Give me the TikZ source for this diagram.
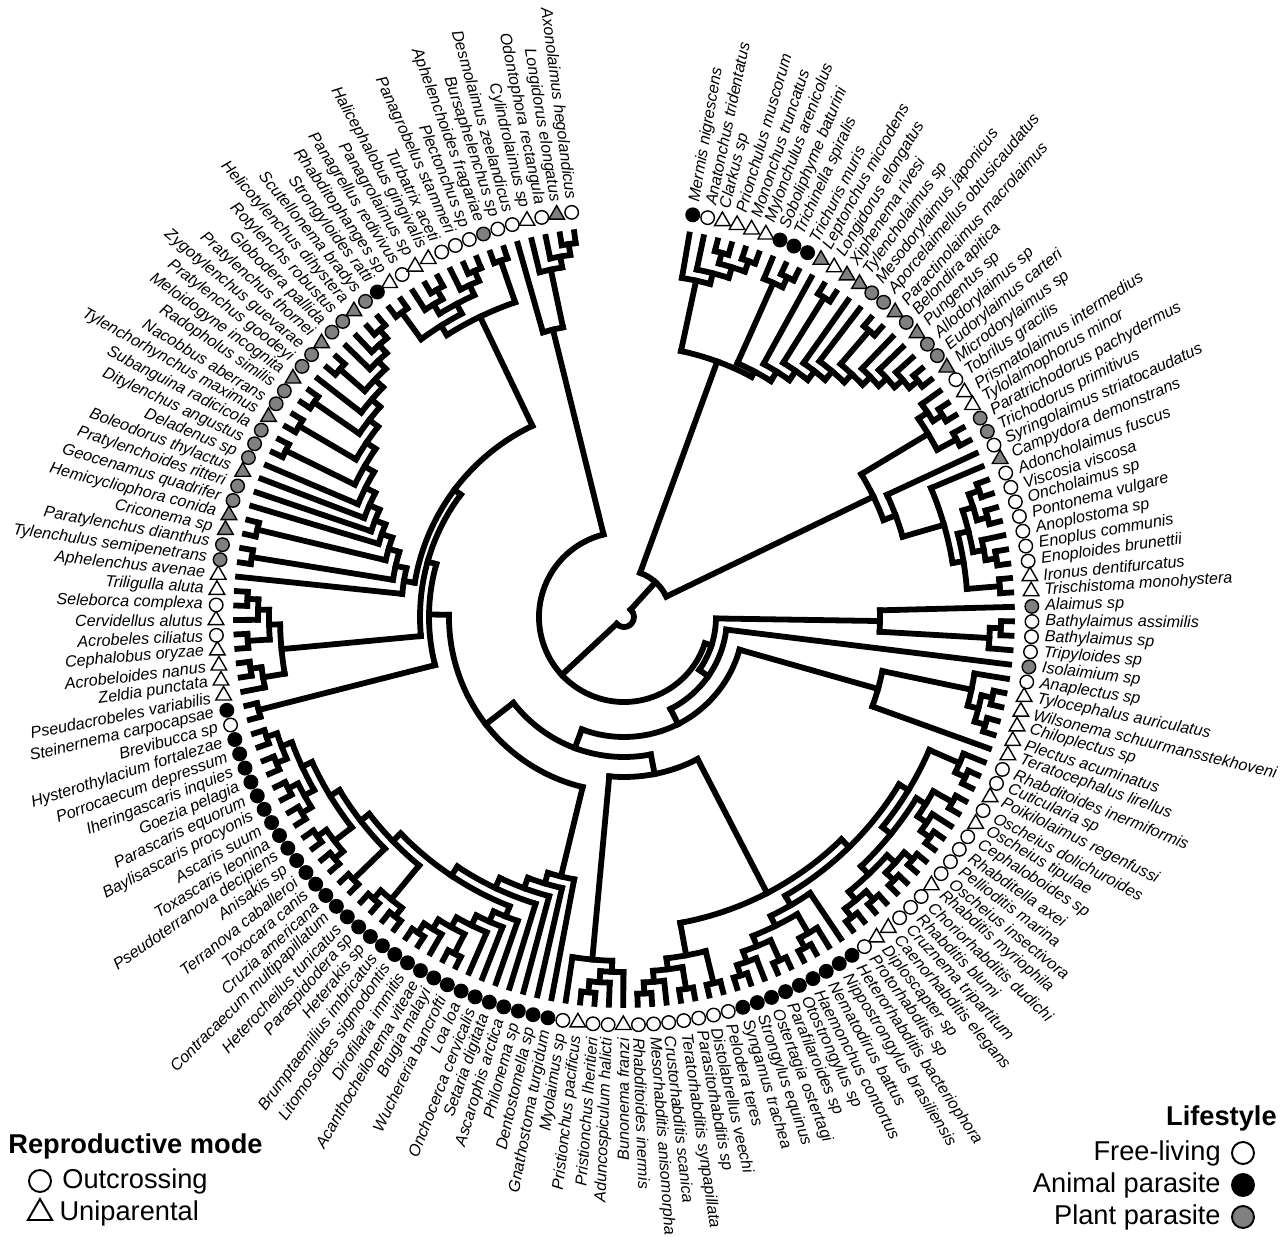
\documentclass[tikz,border=0pt]{standalone}
\usepackage{fontspec}
\setmainfont{Liberation Sans}
\usepackage{tikz}
\usetikzlibrary{positioning,shapes.geometric}
\definecolor{plantgray}{RGB}{128,128,128}

\newcommand\taxfont{\fontsize{9.2}{10}\selectfont\itshape}
\newcommand\legfont{\fontsize{15.5}{18}\selectfont}

% tree layout: radii in cm, angles in degrees (clockwise from the top)
\newcount\leafno
\def\tipR{7.76}
\def\dR{0.22}
\def\startA{80.3}
\def\stepA{2.13}

\def\addkid#1#2{%
  \ifx\kids\empty
    \edef\kids{#1/#2}\edef\aFirst{#1}%
  \else
    \edef\kids{\kids,#1/#2}%
  \fi
  \edef\aLast{#1}%
  \ifdim#2pt<\minR pt\edef\minR{#2}\fi}

\def\tx{%
  \global\advance\leafno by 1
  \pgfmathsetmacro\tipA{\startA-(\the\leafno-1)*\stepA}%
  \addkid{\tipA}{\tipR}}

% \clade[radius in px]{children}
\newcommand\clade[2][]{%
  \begingroup
    \def\kids{}\def\minR{100}%
    #2%
    \def\cladeopt{#1}%
    \ifx\cladeopt\empty
      \pgfmathsetmacro\myR{\minR-\dR}%
    \else
      \pgfmathsetmacro\myR{#1/50}%
    \fi
    \foreach \ka/\kr in \kids {\draw[branch] (\ka:\kr) -- (\ka:\myR);}%
    \draw[branch] (\aFirst:\myR) arc[start angle=\aFirst, end angle=\aLast, radius=\myR];%
    \pgfmathsetmacro\myA{(\aFirst+\aLast)/2}%
    \xdef\retA{\myA}\xdef\retR{\myR}%
  \endgroup
  \addkid{\retA}{\retR}}

\tikzset{
  branch/.style={line width=3.3pt, line cap=rect},
  symbase/.style={draw, line width=0.8pt, inner sep=0pt},
  sym o/.style={symbase, circle, minimum size=0.27cm, fill=white},
  sym b/.style={symbase, circle, minimum size=0.27cm, fill=black},
  sym g/.style={symbase, circle, minimum size=0.27cm, fill=plantgray},
  sym t/.style={symbase, regular polygon, regular polygon sides=3, minimum size=0.36cm, fill=white},
  sym G/.style={symbase, regular polygon, regular polygon sides=3, minimum size=0.36cm, fill=plantgray},
  taxon/.style={font=\taxfont, inner sep=0pt},
  legsym/.style={draw, line width=1.1pt, inner sep=0pt},
  legtext/.style={font=\legfont, inner sep=0pt},
  legtitle/.style={font=\legfont\bfseries, inner sep=0pt}
}

\begin{document}
\begin{tikzpicture}
\useasboundingbox (-12.48,-12.40) rectangle (13.24,12.34);

% tips: symbols and names
\foreach \nm/\sy [count=\i] in {
  Mermis nigrescens/b, Anatonchus tridentatus/o, Clarkus sp/t, Prionchulus muscorum/t,
  Mononchus truncatus/t, Mylonchulus arenicolus/t, Soboliphyme baturini/b,
  Trichinella spiralis/b, Trichuris muris/b, Leptonchus microdens/G,
  Longidorus elongatus/t, Xiphenema rivesi/G, Tylencholaimus sp/G,
  Mesodorylaimus japonicus/g, Aporcelaimellus obtusicaudatus/g,
  Paractinolaimus macrolaimus/G, Belondira apitica/g, Pungentus sp/G,
  Allodorylaimus sp/g, Eudorylaimus carteri/g, Microdorylaimus sp/G,
  Tobrilus gracilis/o, Prismatolaimus intermedius/t, Tylolaimophorus minor/t,
  Paratrichodorus pachydermus/g, Trichodorus primitivus/g,
  Syringolaimus striatocaudatus/o, Campydora demonstrans/G, Adoncholaimus fuscus/o,
  Viscosia viscosa/o, Oncholaimus sp/o, Pontonema vulgare/o, Anoplostoma sp/o,
  Enoplus communis/o, Enoploides brunettii/o, Ironus dentifurcatus/t,
  Trischistoma monohystera/t, Alaimus sp/g, Bathylaimus assimilis/o,
  Bathylaimus sp/o, Tripyloides sp/o, Isolaimium sp/g, Anaplectus sp/o,
  Tylocephalus auriculatus/t, Wilsonema schuurmansstekhoveni/t, Chiloplectus sp/t,
  Plectus acuminatus/t, Teratocephalus lirellus/t, Rhabditoides inermiformis/o,
  Cuticularia sp/o, Poikilolaimus regenfussi/t, Oscheius dolichuroides/o,
  Oscheius tipulae/t, Cephaloboides sp/o, Rhabditella axei/o, Pellioditis marina/o,
  Oscheius insectivora/o, Rhabditis myriophila/t, Choriorhabditis dudichi/o,
  Rhabditis blumi/o, Cruznema tripartitum/o, Caenorhabditis elegans/t,
  Diploscapter sp/t, Protorhabditis sp/o, Heterorhabditis bacteriophora/b,
  Nippostrongylus brasiliensis/b, Nematodirus battus/b, Haemonchus contortus/b,
  Otostrongylus sp/b, Parafilaroides sp/b, Ostertagia ostertagi/b,
  Strongylus equinus/b, Syngamus trachea/b, Pelodera teres/o,
  Distolabrellus veechi/o, Parasitorhabditis sp/o, Teratorhabditis synpapillata/o,
  Crustorhabditis scanica/o, Mesorhabditis anisomorpha/o, Rhabditoides inermis/o,
  Bunonema franzi/t, Aduncospiculum halicti/o, Pristionchus lheritieri/o,
  Pristionchus pacificus/t, Myolaimus sp/o, Gnathostoma turgidum/b,
  Dentostomella sp/b, Philonema sp/b, Ascarophis arctica/b, Setaria digitata/b,
  Onchocerca cervicalis/b, Loa loa/b, Wuchereria bancrofti/b, Brugia malayi/b,
  Acanthocheilonema viteae/b, Dirofilaria immitis/b, Litomosoides sigmodontis/b,
  Brumptaemilius imbricatus/b, Heterakis sp/b, Paraspidodera sp/b,
  Heterocheilus tunicatus/b, Contracaecum multipapillatum/b, Cruzia americana/b,
  Toxocara canis/b, Terranova caballeroi/b, Anisakis sp/b,
  Pseudoterranova decipiens/b, Toxascaris leonina/b, Ascaris suum/b,
  Baylisascaris procyonis/b, Parascaris equorum/b, Goezia pelagia/b,
  Iheringascaris inquies/b, Porrocaecum depressum/b, Hysterothylacium fortalezae/b,
  Brevibucca sp/o, Steinernema carpocapsae/b, Pseudacrobeles variabilis/t,
  Zeldia punctata/t, Acrobeloides nanus/t, Cephalobus oryzae/t, Acrobeles ciliatus/o,
  Cervidellus alutus/t, Seleborca complexa/o, Triligulla aluta/t, Aphelenchus avenae/t,
  Tylenchulus semipenetrans/g, Paratylenchus dianthus/g, Criconema sp/G,
  Hemicycliophora conida/G, Geocenamus quadrifer/g, Pratylenchoides ritteri/g,
  Boleodorus thylactus/G, Deladenus sp/g, Ditylenchus angustus/g,
  Subanguina radicicola/g, Tylenchorhynchus maximus/G, Nacobbus aberrans/g,
  Radopholus similis/g, Meloidogyne incognita/G, Pratylenchus goodeyi/g,
  Zygotylenchus guevarae/g, Pratylenchus thornei/G, Globodera pallida/g,
  Rotylenchs robustus/g, Helicotylenchus dihystera/G, Scutellonema bradys/g,
  Strongyloides ratti/b, Rhabditophanges sp/t, Panagrellus redivivus/o,
  Panagrolaimus sp/t, Halicephalobus gingivalis/t, Turbatrix aceti/o,
  Panagrobelus stammeri/o, Plectonchus sp/o, Aphelenchoides fragariae/g,
  Bursaphelenchus sp/o, Desmolaimus zeelandicus/o, Cylindrolaimus sp/t,
  Odontophora rectangula/o, Longidorus elongatus/G, Axonolaimus hegolandicus/o} {
  \pgfmathsetmacro\ang{\startA-(\i-1)*\stepA}
  \node[sym \sy] (s\i) at (\ang:8.16) {};
  \ifdim\ang pt>-90pt
    \node[taxon, rotate=\ang, anchor=west] (n\i) at (\ang:8.42) {\nm};
  \else
    \pgfmathsetmacro\flip{\ang+180}
    \node[taxon, rotate=\flip, anchor=east] (n\i) at (\ang:8.42) {\nm};
  \fi
}

% the tree, tips in the order of the list above
\def\kids{}\def\minR{100}%
\clade[10]{%
  \clade[47]{%
    \clade[272]{% Dorylaimia
      \clade{\tx\clade{\tx\clade{\clade{\tx\tx}\clade{\tx\tx}}}}%
      \clade{\clade{\tx\clade{\tx\tx}}%
        \clade{\tx\clade{\clade{\tx\tx}\clade{\tx\clade{\tx\clade{\clade{\tx\tx}%
          \clade{\tx\clade{\tx\clade{\tx\clade{\tx\tx}}}}}}}}}}}%
    \clade[277]{% Enoplia
      \clade{\clade{\tx\clade{\tx\tx}}\clade{\tx\tx}}%
      \clade[290]{\tx\clade{\tx\clade{\clade{\clade{\clade{\tx\tx}\clade{\tx\tx}}%
        \clade{\tx\clade{\tx\tx}}}\clade{\tx\tx}}}}}}%
  \clade[85]{% Chromadoria
    \clade[92]{%
      \clade[256]{\tx\clade{\clade{\tx\tx}\tx}}%
      \clade[103]{%
        \tx
        \clade[120]{%
          \clade[264]{\clade{\tx\clade{\clade{\tx\tx}\clade{\tx\tx}}}\tx}%
          \clade[140]{%
            \clade[160]{% Rhabditina
              \clade{%
                \clade{%
                  \clade{\clade{\tx\clade{\tx\tx}}\clade{\clade{\clade{\tx\tx}\clade{\tx\clade{\tx\tx}}}%
                    \clade{\clade{\clade{\tx\tx}\clade{\tx\tx}}\clade{\clade{\tx\tx}\clade{\tx\tx}}}}}%
                  \clade{\tx\clade{\clade{\tx\clade{\tx\tx}}\clade{\clade{\tx\tx}\clade{\tx\clade{\tx\tx}}}}}}%
                \clade{\clade{\tx\tx}\clade{\clade{\tx\tx}\clade{\tx\clade{\tx\tx}}}}}%
              \clade{\clade{\tx\clade{\tx\clade{\tx\tx}}}\tx}}%
            \clade[175]{%
              \clade{% Spirurina
                \tx\clade{\tx\clade{\tx\clade{\tx\clade{%
                  \clade{\tx\clade{\tx\clade{\tx\clade{\clade{\tx\tx}\clade{\tx\clade{\tx\tx}}}}}}%
                  \clade{%
                    \clade{\clade{\tx\tx}\clade{\tx\tx}}%
                    \clade{\clade{\tx\tx}\clade{\clade{\clade{\tx\tx}\clade{\tx\tx}}%
                      \clade{\clade{\clade{\tx\tx}\clade{\tx\tx}}\clade{\clade{\tx\tx}\clade{\tx\tx}}}}}}}}}}}%
              \clade[195]{%
                \clade{\tx\tx}%
                \clade[204]{%
                  \clade{\clade{\tx\clade{\tx\tx}}\clade{\clade{\tx\tx}\clade{\tx\clade{\tx\tx}}}}%
                  \clade{%
                    \clade{\tx\clade{\clade{\tx\tx}\clade{\clade{\tx\tx}\clade{\tx\clade{\tx\clade{\tx%
                      \clade{\tx\clade{\clade{\tx\tx}\clade{\clade{\tx\tx}\clade{\clade{\tx\tx}%
                      \clade{\tx\clade{\clade{\tx\tx}\clade{\tx\clade{\tx\clade{\tx\tx}}}}}}}}}}}}}}}%
                    \clade{%
                      \clade{\clade{\tx\tx}\clade{\clade{\tx\clade{\tx\tx}}\clade{\tx\clade{\tx\tx}}}}%
                      \clade{\tx\tx}}}}}}}}}}%
    \clade[296]{\tx\clade{\tx\clade{\tx\clade{\tx\tx}}}}}}%

% legends
\node[legtitle, anchor=base west] (rmode) at (-12.32,-10.72) {Reproductive mode};
\node[legsym, circle, minimum size=0.44cm] (kout) at (-11.68,-11.28) {};
\node[legtext, right=0.2cm of kout] (tout) {Outcrossing};
\node[legsym, regular polygon, regular polygon sides=3, minimum size=0.56cm] (kuni) at (-11.68,-11.92) {};
\node[legtext, right=0.2cm of kuni] (tuni) {Uniparental};

\node[legtitle, anchor=base east] (life) at (13.06,-10.16) {Lifestyle};
\node[legsym, circle, minimum size=0.44cm, fill=white] (kfree) at (12.38,-10.72) {};
\node[legtext, left=0.2cm of kfree] (tfree) {Free-living};
\node[legsym, circle, minimum size=0.44cm, fill=black] (kanim) at (12.38,-11.36) {};
\node[legtext, left=0.2cm of kanim] (tanim) {Animal parasite};
\node[legsym, circle, minimum size=0.44cm, fill=plantgray] (kplant) at (12.38,-12.00) {};
\node[legtext, left=0.2cm of kplant] (tplant) {Plant parasite};
\end{tikzpicture}
\end{document}
